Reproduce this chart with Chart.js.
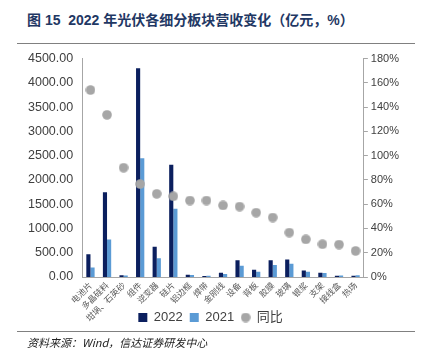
<!DOCTYPE html>
<html><head><meta charset="utf-8">
<script src="https://cdn.jsdelivr.net/npm/chart.js@4/dist/chart.umd.min.js"></script>
<style>
html,body{margin:0;padding:0;background:#fff;width:432px;height:356px;overflow:hidden;font-family:"Liberation Sans","Noto Sans CJK SC",sans-serif;}
#title{position:absolute;left:27px;top:9px;font-size:14px;font-weight:bold;color:#1f3864;white-space:nowrap;font-family:"Liberation Sans","Noto Sans CJK SC",sans-serif;}
#rule1{position:absolute;left:17px;top:43px;width:398px;height:0;border-top:1.5px solid #808080;}
#rule2{position:absolute;left:17px;top:331px;width:398px;height:0;border-top:1.5px solid #808080;}
#src{position:absolute;left:27px;top:334px;font-size:11px;font-style:italic;color:#222;white-space:nowrap;font-family:"Noto Sans CJK SC",sans-serif;}
#wrap{position:absolute;left:0;top:42px;width:432px;height:292px;}
</style></head>
<body>
<div id="title">图 15&nbsp;&nbsp;2022 年光伏各细分板块营收变化（亿元，%）</div>
<div id="rule1"></div>
<div id="wrap"><canvas id="c"></canvas></div>
<div id="rule2"></div>
<div id="src">资料来源：Wind，信达证券研发中心</div>
<script>
const categories = ["电池片","多晶硅料","坩埚、石英砂","组件","逆变器","硅片","铝边框","焊带","金刚线","设备","背板","胶膜","玻璃","银浆","支架","接线盒","热场"];
const rev2022 = [470, 1745, 35, 4300, 625, 2311, 45, 22, 85, 345, 150, 345, 358, 135, 88, 25, 25];
const rev2021 = [195, 771, 30, 2448, 385, 1405, 40, 25, 60, 232, 110, 245, 275, 110, 82, 30, 35];
const yoy = [154, 133.6, 90, 76.6, 68.5, 66.5, 63, 63, 59, 58, 53, 49, 36.6, 31, 27, 26.7, 21.5];
const leftTicks = {min:0, max:4500, step:500};
const rightTicks = {min:0, max:180, step:20};

// grey dot marker used for the 同比 series and its legend entry
const dot = document.createElement('canvas');
dot.width = 10; dot.height = 10;
(function(){ const g = dot.getContext('2d'); g.fillStyle = '#a6a6a6'; g.beginPath(); g.arc(5,5,4.8,0,Math.PI*2); g.fill(); })();

const extendLabelArea = {
  id:'extendLabelArea',
  afterLayout(chart){ chart.scales.x.bottom = chart.height; }
};

new Chart(document.getElementById('c'), {
  data: {
    labels: categories,
    datasets: [
      {type:'bar', label:'2022', data:rev2022, backgroundColor:'#0b1f5e', yAxisID:'y', categoryPercentage:0.5, barPercentage:1.0, order:2, pointStyle:'rect'},
      {type:'bar', label:'2021', data:rev2021, backgroundColor:'#5b9bd5', yAxisID:'y', categoryPercentage:0.5, barPercentage:1.0, order:2, pointStyle:'rect'},
      {type:'line', label:'同比', data:yoy, yAxisID:'y1', showLine:false, pointRadius:5, pointHoverRadius:5, pointBackgroundColor:'#a6a6a6', pointBorderColor:'#a6a6a6', backgroundColor:'#a6a6a6', borderColor:'#a6a6a6', order:1, pointStyle:dot}
    ]
  },
  plugins:[extendLabelArea],
  options: {
    responsive:true, maintainAspectRatio:false, animation:false,
    layout:{padding:{top:-2,left:19,right:30,bottom:0}},
    plugins:{
      legend:{position:'bottom', labels:{usePointStyle:true, boxWidth:9, boxHeight:9, padding:7, color:'#404040',
        font:{size:13, family:'"Liberation Sans","Noto Sans CJK SC",sans-serif'},
        sort:(a,b)=>a.datasetIndex-b.datasetIndex}},
      tooltip:{enabled:false}
    },
    scales:{
      x:{grid:{display:false, drawTicks:false}, border:{color:'#a6a6a6'},
         afterFit:(s)=>{s.height=27;},
         ticks:{color:'#595959', maxRotation:45, minRotation:45, autoSkip:false, padding:3, font:{size:8.5, family:'"Noto Sans CJK SC",sans-serif'}}},
      y:{position:'left', min:leftTicks.min, max:leftTicks.max, grid:{display:false, drawTicks:false}, border:{color:'#a6a6a6'},
         ticks:{stepSize:leftTicks.step, color:'#404040', padding:9, font:{size:12.5, family:'"Liberation Sans",sans-serif'}, callback:v=>v.toFixed(2)}},
      y1:{position:'right', min:rightTicks.min, max:rightTicks.max, grid:{drawOnChartArea:false, color:'#a6a6a6', tickLength:4}, border:{color:'#a6a6a6'},
         ticks:{stepSize:rightTicks.step, color:'#404040', padding:3, font:{size:11, family:'"Liberation Sans",sans-serif'}, callback:v=>v+'%'}}
    }
  }
});
</script>
</body></html>
